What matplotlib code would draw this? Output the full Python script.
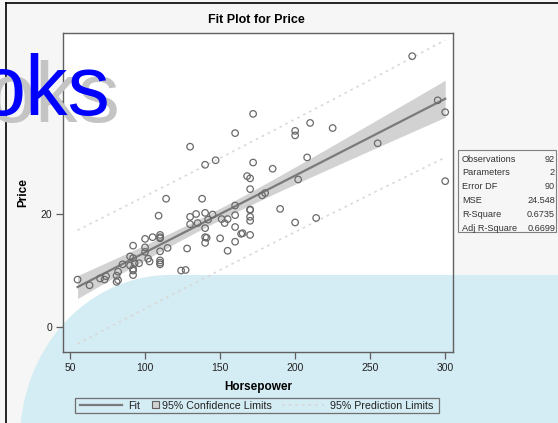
import numpy as np
import matplotlib
matplotlib.use("Agg")
import matplotlib.pyplot as plt
import matplotlib.transforms as mtransforms
from matplotlib.patches import Rectangle, Ellipse
from matplotlib.lines import Line2D

# Cars data: horsepower and price
horsepower = [140, 200, 172, 172, 208, 110, 170, 180, 170, 200, 295, 110, 110, 160,
              110, 170, 165, 170, 300, 153, 141, 147, 92, 93, 100, 142, 100, 300,
              92, 214, 63, 127, 96, 105, 115, 145, 140, 190, 55, 90, 160, 102,
              140, 81, 124, 92, 128, 278, 185, 225, 160, 210, 82, 103, 164, 155,
              255, 130, 100, 140, 92, 202, 110, 150, 151, 160, 155, 110, 170, 170,
              92, 74, 110, 160, 200, 170, 140, 85, 73, 90, 130, 70, 82, 135,
              130, 138, 81, 109, 134, 178, 114, 168]
price = [15.9, 33.9, 29.1, 37.7, 30.0, 15.7, 20.8, 23.7, 26.3, 34.7, 40.1, 13.4, 11.4, 15.1,
         15.9, 16.3, 16.6, 18.8, 38.0, 18.4, 15.8, 29.5, 9.2, 11.3, 13.3, 19.0, 15.6, 25.8,
         12.2, 19.3, 7.4, 10.1, 11.3, 15.9, 14.0, 19.9, 20.2, 20.9, 8.4, 12.5, 19.8, 12.1,
         17.5, 8.0, 10.0, 10.0, 13.9, 47.9, 28.0, 35.2, 34.3, 36.1, 8.3, 11.6, 16.5, 19.1,
         32.5, 31.9, 14.1, 14.9, 10.3, 26.1, 11.8, 15.7, 19.1, 21.5, 13.5, 16.3, 19.5, 20.7,
         14.4, 9.0, 11.1, 17.7, 18.5, 24.4, 28.7, 11.1, 8.4, 10.9, 19.5, 8.6, 9.8, 18.4,
         18.2, 22.7, 9.1, 19.7, 20.0, 23.3, 22.7, 26.7]

stat_names = ["Observations", "Parameters", "Error DF", "MSE", "R-Square", "Adj R-Square"]
stat_values = ["92", "2", "90", "24.548", "0.6735", "0.6699"]
x_ticks = [50, 100, 150, 200, 250, 300]
y_ticks = [0, 20, 40]

W, H = 558, 423
FONT = "Liberation Sans"


def main():
    x = np.array(horsepower, dtype=float)
    y = np.array(price, dtype=float)
    n = len(x)

    # least squares fit with 95% confidence and prediction limits
    slope, intercept = np.polyfit(x, y, 1)
    resid = y - (intercept + slope * x)
    mse = np.sum(resid ** 2) / (n - 2)
    sxx = np.sum((x - x.mean()) ** 2)
    t = 1.9867
    xs = np.linspace(x.min(), x.max(), 200)
    fit = intercept + slope * xs
    se_mean = np.sqrt(mse * (1 / n + (xs - x.mean()) ** 2 / sxx))
    se_pred = np.sqrt(mse * (1 + 1 / n + (xs - x.mean()) ** 2 / sxx))

    fig = plt.figure(figsize=(W / 100, H / 100), dpi=100, facecolor="#f6f6f6")
    px = mtransforms.Affine2D().scale(1 / W, -1 / H).translate(0, 1) + fig.transFigure

    # outer frame, plot area background, blue backdrop
    fig.add_artist(Line2D([6, W], [3, 3], transform=px, color="black", lw=1.2, zorder=-4))
    fig.add_artist(Line2D([6, 6], [3, H], transform=px, color="black", lw=1.2, zorder=-4))
    fig.add_artist(Rectangle((63, 33), 390, 319, transform=px, facecolor="white",
                             edgecolor="none", zorder=-3))
    blue = "#d4ecf3"
    fig.add_artist(Ellipse((170, 440), 300, 330, transform=px, facecolor=blue,
                           edgecolor="none", zorder=-2))
    fig.add_artist(Rectangle((170, 275), W - 170 + 5, H, transform=px, facecolor=blue,
                             edgecolor="none", zorder=-2))

    ax = fig.add_axes([63 / W, 1 - 352 / H, 390 / W, 319 / H])
    ax.patch.set_visible(False)

    ax.fill_between(xs, fit - t * se_mean, fit + t * se_mean, color="#d2d2d2", lw=0, zorder=1)
    ax.plot(xs, fit - t * se_pred, color="#d8d8d8", lw=1.2, ls=(0, (1.5, 2.5)), zorder=2)
    ax.plot(xs, fit + t * se_pred, color="#d8d8d8", lw=1.2, ls=(0, (1.5, 2.5)), zorder=2)
    ax.plot(xs, fit, color="#7a7a7a", lw=1.6, zorder=3)
    ax.scatter(x, y, s=22, facecolors="none", edgecolors="#6a6a6a", linewidths=0.9, zorder=4)

    ax.set_xlim(45.3, 305.2)
    ax.set_ylim(-4.4, 52.0)
    ax.set_xticks(x_ticks)
    ax.set_yticks(y_ticks)
    for s in ax.spines.values():
        s.set_color("#606060")
        s.set_linewidth(1.0)
    ax.tick_params(direction="out", length=5, width=0.9, color="#606060",
                   labelsize=7.5, labelcolor="#222222", pad=3)
    for lab in ax.get_xticklabels() + ax.get_yticklabels():
        lab.set_fontfamily(FONT)

    ax.set_xlabel("Horsepower", fontsize=8.5, fontweight="bold", family=FONT, labelpad=6)
    ax.set_ylabel("Price", fontsize=8.5, fontweight="bold", family=FONT, labelpad=8)
    fig.text(256 / W, 1 - 20 / H, "Fit Plot for Price", ha="center", va="center",
             fontsize=9, fontweight="bold", family=FONT)

    # statistics table
    fig.add_artist(Rectangle((458, 150), 98, 82, transform=px, facecolor="none",
                             edgecolor="#808080", lw=0.8))
    for i, (name, val) in enumerate(zip(stat_names, stat_values)):
        yy = 159 + i * 13.8
        fig.text(462 / W, 1 - yy / H, name, ha="left", va="center", fontsize=6.6,
                 family=FONT, color="#333333")
        fig.text(555 / W, 1 - yy / H, val, ha="right", va="center", fontsize=6.6,
                 family=FONT, color="#333333")

    # legend
    fig.add_artist(Rectangle((75, 398), 364, 15, transform=px, facecolor="none",
                             edgecolor="#707070", lw=0.9))
    ly = 405.5
    fig.add_artist(Line2D([80, 122], [ly, ly], transform=px, color="#7a7a7a", lw=1.6))
    fig.text(128 / W, 1 - ly / H, "Fit", ha="left", va="center", fontsize=7.7,
             family=FONT, color="#222222")
    fig.add_artist(Rectangle((152, 401.5), 7, 7, transform=px, facecolor="#d2d2d2",
                             edgecolor="#606060", lw=0.8))
    fig.text(162 / W, 1 - ly / H, "95% Confidence Limits", ha="left", va="center",
             fontsize=7.7, family=FONT, color="#222222")
    fig.add_artist(Line2D([282, 324], [ly, ly], transform=px, color="#d8d8d8", lw=1.2,
                          ls=(0, (1.5, 2.5))))
    fig.text(330 / W, 1 - ly / H, "95% Prediction Limits", ha="left", va="center",
             fontsize=7.7, family=FONT, color="#222222")

    # overlaid logo fragment
    fig.text(-11 / W, 1 - 122 / H, "oks", ha="left", va="baseline", fontsize=61,
             family=FONT, color="#c4c4c4", zorder=10)
    fig.text(-21 / W, 1 - 115 / H, "oks", ha="left", va="baseline", fontsize=61,
             family=FONT, color="#0000ff", zorder=11)

    fig.savefig("out.png", dpi=100, facecolor=fig.get_facecolor())


if __name__ == "__main__":
    main()
